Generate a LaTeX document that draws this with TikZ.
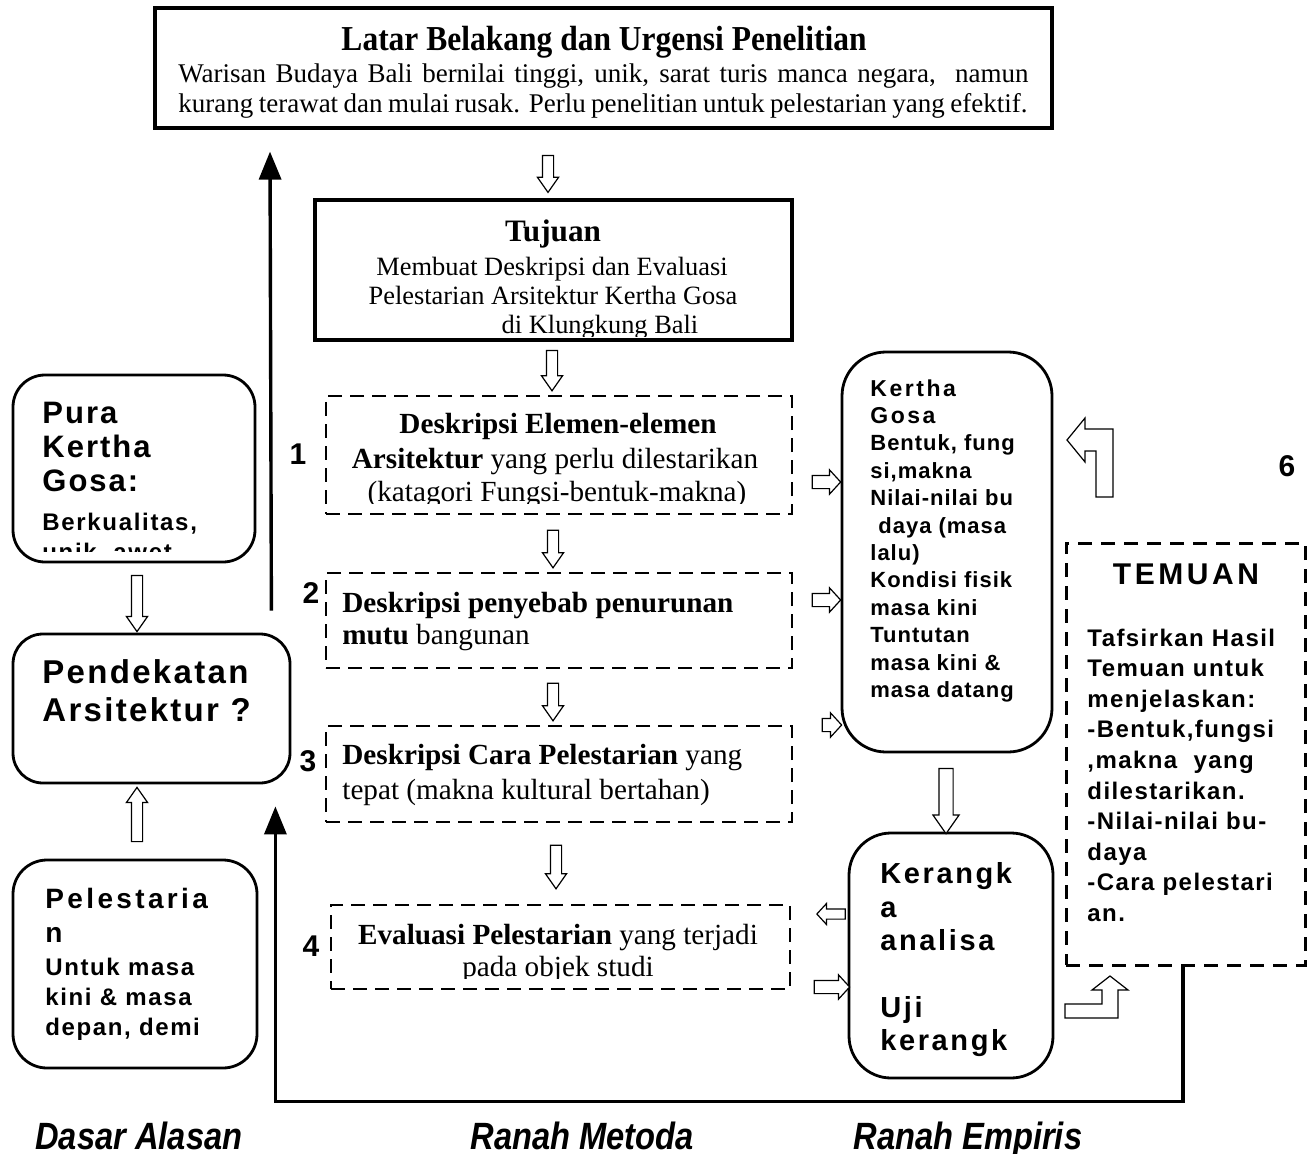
\documentclass[tikz,border=0pt]{standalone}
\usepackage{fontspec}
\setmainfont{Liberation Serif}
\newfontfamily\arl{Liberation Sans}
\newfontfamily\arlc[FakeStretch=0.86]{Liberation Sans}
\newfontfamily\serc[FakeStretch=0.9]{Liberation Serif}
\usetikzlibrary{shapes.arrows, arrows.meta, calc}
\newcommand\sfx[2]{\arl\bfseries\fontsize{#1}{#1}\selectfont\addfontfeatures{LetterSpace=#2}}
\newcommand\srf[1]{\fontsize{#1}{#1}\selectfont}
\newcommand\blockarrow[3][]{\path let \p1=($(#3)-(#2)$), \n1={veclen(\x1,\y1)} in (#2) -- (#3) node[blk, midway, minimum height=\n1, #1] {};}
\begin{document}
\begin{tikzpicture}[x=0.5pt,y=-0.5pt,
  txt/.style={inner sep=0pt, anchor=base west},
  txtc/.style={inner sep=0pt, anchor=base},
  sq/.style={draw, line width=1.6pt, inner sep=0pt},
  rbox/.style={draw, line width=1.4pt, inner sep=0pt, rounded corners=#1},
  rbox/.default=15pt,
  dbox/.style={draw, line width=1.2pt, dash pattern=on 7pt off 4pt, inner sep=0pt},
  blk/.style={single arrow, draw, line width=0.6pt, fill=white, inner sep=0pt, inner ysep=2.5pt,
     single arrow head extend=2.5pt, single arrow tip angle=70, sloped, allow upside down},
  blkh/.style={inner ysep=3pt, single arrow head extend=2.75pt, single arrow tip angle=95},
  bline/.style={line width=1.7pt, -{Triangle[length=14pt,width=11pt]}},
  num/.style={inner sep=0pt, anchor=base, font={\sfx{15}{0}}},
  lab/.style={inner sep=0pt, anchor=base west, font={\arlc\bfseries\itshape\fontsize{19}{19}\selectfont}}
]
\fill[white] (0,0) rectangle (1309,1154);
\path[use as bounding box] (0,0) rectangle (1309,1154);

% ---------- boxes ----------
\node[sq, minimum width=448.5pt, minimum height=60pt] (top) at (603.5,68) {};
\node[sq, minimum width=238.5pt, minimum height=70pt] (tuj) at (553.5,270) {};
\node[dbox, minimum width=233pt, minimum height=59pt] (d1) at (559,455) {};
\node[dbox, minimum width=233pt, minimum height=47.5pt] (d2) at (559,620.5) {};
\node[dbox, minimum width=233pt, minimum height=48pt] (d3) at (559,774) {};
\node[dbox, minimum width=229.5pt, minimum height=42pt] (d4) at (560.5,947) {};
\node[rbox=16pt, minimum width=121pt, minimum height=93.5pt] (pura) at (134,468.5) {};
\node[rbox=15pt, minimum width=138.5pt, minimum height=74.5pt] (pend) at (151.5,708.5) {};
\node[rbox=17pt, minimum width=122pt, minimum height=104pt] (pel) at (135,964) {};
\node[rbox=22pt, minimum width=105pt, minimum height=200pt] (kg) at (947,552) {};
\node[rbox=21pt, minimum width=102pt, minimum height=122.5pt] (ker) at (951,955.5) {};
\node[draw, line width=1.5pt, dash pattern=on 7pt off 4.5pt, inner sep=0pt,
      minimum width=119.5pt, minimum height=211pt] (tem) at (1185.5,754) {};

% ---------- top box text ----------
\node[txtc, font={\serc\bfseries\srf{17.5}}] (topT) at (604,51) {Latar Belakang dan Urgensi Penelitian};
\node[txt, font={\srf{13.5}}] (topL1) at (178,83) {\makebox[425pt][s]{Warisan Budaya Bali bernilai tinggi, unik, sarat turis manca negara,\ \ namun}};
\node[txt, font={\srf{13.5}}] (topL2) at (178,113) {\makebox[424.5pt][s]{kurang terawat dan mulai rusak. Perlu penelitian untuk pelestarian yang efektif.}};

% ---------- Tujuan ----------
\node[txtc, font={\bfseries\srf{15.6}}] (tujT) at (553,242) {Tujuan};
\node[txtc, font={\srf{13.2}}] (tujL1) at (552,276) {Membuat Deskripsi dan Evaluasi};
\node[txtc, font={\srf{13.2}}] (tujL2) at (553,305) {Pelestarian Arsitektur Kertha Gosa};
\begin{scope}
\clip (0,0) rectangle (1309,337);
\node[txtc, font={\srf{13.2}}] (tujL3) at (600,334) {di Klungkung Bali};
\end{scope}

% ---------- method boxes ----------
\node[txtc, font={\srf{14.6}}] (d1L1) at (558,433) {\textbf{Deskripsi Elemen-elemen}};
\node[txtc, font={\srf{14.6}}] (d1L2) at (555,468) {\textbf{Arsitektur} yang perlu dilestarikan};
\begin{scope}
\clip (0,0) rectangle (1309,503);
\node[txtc, font={\srf{14.6}}] (d1L3) at (557,501) {(katagori Fungsi-bentuk-makna)};
\end{scope}
\node[txt, font={\srf{14.6}}] (d2L1) at (342,612) {\textbf{Deskripsi penyebab penurunan}};
\node[txt, font={\srf{14.6}}] (d2L2) at (342,644) {\textbf{mutu} bangunan};
\node[txt, font={\srf{14.6}}] (d3L1) at (342,764) {\textbf{Deskripsi Cara Pelestarian} yang};
\node[txt, font={\srf{14.6}}] (d3L2) at (342,799) {tepat (makna kultural bertahan)};
\node[txtc, font={\srf{14.6}}] (d4L1) at (558,944) {\textbf{Evaluasi Pelestarian} yang terjadi};
\begin{scope}
\clip (0,0) rectangle (1309,978);
\node[txtc, font={\srf{14.6}}] (d4L2) at (558,976) {pada objek studi};
\end{scope}

\node[num] (n1) at (298,464) {1};
\node[num] (n2) at (311,603) {2};
\node[num] (n3) at (308,771) {3};
\node[num] (n4) at (311,956) {4};
\node[num] (n6) at (1287,476) {6};

% ---------- left column ----------
\node[txt, font={\sfx{15.5}{6.5}}] (puraA) at (42,423) {Pura};
\node[txt, font={\sfx{15.5}{6.5}}] (puraB) at (42,457) {Kertha};
\node[txt, font={\sfx{15.5}{6.5}}] (puraC) at (42,491) {Gosa:};
\node[txt, font={\sfx{12}{7}}] (puraD) at (42,530) {Berkualitas,};
\begin{scope}
\clip (0,0) rectangle (1309,551);
\node[txt, font={\sfx{12}{7}}] (puraE) at (42,560) {unik, awet};
\end{scope}

\node[txt, font={\sfx{16.5}{7}}] (pendA) at (42,683) {Pendekatan};
\node[txt, font={\sfx{16.5}{7}}] (pendB) at (42,721) {Arsitektur ?};

\node[txt, font={\sfx{14}{12}}] (pelA) at (45,908) {Pelestaria};
\node[txt, font={\sfx{14}{12}}] (pelB) at (45,942) {n};
\node[txt, font={\sfx{12}{6.7}}] (pelC) at (45,975) {Untuk masa};
\node[txt, font={\sfx{12}{6.7}}] (pelD) at (45,1005) {kini \& masa};
\node[txt, font={\sfx{12}{6.7}}] (pelE) at (45,1035) {depan, demi};

% ---------- Kertha Gosa ----------
\node[txt, font={\sfx{11.5}{11}}] (kgA) at (870,396) {Kertha};
\node[txt, font={\sfx{11.5}{11}}] (kgB) at (870,423.4) {Gosa};
\node[txt, font={\sfx{11}{4.5}}] (kgC) at (870,450.8) {Bentuk, fung};
\node[txt, font={\sfx{11}{4.5}}] (kgD) at (870,478.2) {si,makna};
\node[txt, font={\sfx{11}{4.5}}] (kgE) at (870,505.6) {Nilai-nilai bu};
\node[txt, font={\sfx{11}{4.5}}] (kgF) at (870,533) {\hspace*{4pt}daya (masa};
\node[txt, font={\sfx{11}{4.5}}] (kgG) at (870,560.4) {lalu)};
\node[txt, font={\sfx{11}{4.5}}] (kgH) at (870,587.8) {Kondisi fisik};
\node[txt, font={\sfx{11}{4.5}}] (kgI) at (870,615.2) {masa kini};
\node[txt, font={\sfx{11}{4.5}}] (kgJ) at (870,642.6) {Tuntutan};
\node[txt, font={\sfx{11}{4.5}}] (kgK) at (870,670) {masa kini \&};
\node[txt, font={\sfx{11}{4.5}}] (kgL) at (870,697.4) {masa datang};

% ---------- Kerangka ----------
\node[txt, font={\sfx{14.5}{9}}] (kerA) at (880,883) {Kerangk};
\node[txt, font={\sfx{14.5}{9}}] (kerB) at (880,917) {a};
\node[txt, font={\sfx{14.5}{9}}] (kerC) at (880,950) {analisa};
\node[txt, font={\sfx{14.5}{9}}] (kerD) at (880,1017) {Uji};
\node[txt, font={\sfx{14.5}{9}}] (kerE) at (880,1050) {kerangk};

% ---------- TEMUAN ----------
\node[txtc, font={\sfx{15}{12}}] (temT) at (1186,584) {TEMUAN};
\node[txt, font={\sfx{12}{6}}] (temA) at (1087,646) {Tafsirkan Hasil};
\node[txt, font={\sfx{12}{6}}] (temB) at (1087,676.6) {Temuan untuk};
\node[txt, font={\sfx{12}{6}}] (temC) at (1087,707.2) {menjelaskan:};
\node[txt, font={\sfx{12}{6}}] (temD) at (1087,737.8) {-Bentuk,fungsi};
\node[txt, font={\sfx{12}{6}}] (temE) at (1087,768.4) {,makna\ \ yang};
\node[txt, font={\sfx{12}{6}}] (temF) at (1087,799) {dilestarikan.};
\node[txt, font={\sfx{12}{6}}] (temG) at (1087,829.6) {-Nilai-nilai bu-};
\node[txt, font={\sfx{12}{6}}] (temH) at (1087,860.2) {daya};
\node[txt, font={\sfx{12}{6}}] (temI) at (1087,890.8) {-Cara pelestari};
\node[txt, font={\sfx{12}{6}}] (temJ) at (1087,921.4) {an.};

% ---------- bottom labels ----------
\node[lab] (labA) at (35,1149) {Dasar Alasan};
\node[lab] (labB) at (470,1149) {Ranah Metoda};
\node[lab] (labC) at (853,1149) {Ranah Empiris};

% ---------- black connectors ----------
\coordinate (c1s) at ($(pend.north east)+(-20,-22)$);
\coordinate (c1e) at ($(top.south)+(-333.5,22)$);
\draw[bline] (c1s) -- (c1e);
\coordinate (c2s) at ($(tem.south)+(-2.5,0)$);
\coordinate (c2e) at ($(pend.south east)+(-16,22)$);
\draw[bline] (c2s) -- ++(0,135) -| (c2e);

% ---------- hollow block arrows ----------
\coordinate (a1s) at ($(top.south)+(-55.5,22)$);  \coordinate (a1e) at ($(tuj.north)+(-5.5,-10)$);
\coordinate (a2s) at ($(tuj.south)+(-1.5,5)$);    \coordinate (a2e) at ($(d1.north)+(-7,-8)$);
\coordinate (a3s) at ($(d1.south)+(-6,11)$);      \coordinate (a3e) at ($(d2.north)+(-6,-8)$);
\coordinate (a4s) at ($(d2.south)+(-6,10)$);      \coordinate (a4e) at ($(d3.north)+(-6,-8)$);
\coordinate (a5s) at ($(d3.south)+(-3,18)$);      \coordinate (a5e) at ($(d4.north)+(-4.5,-19)$);
\coordinate (a6s) at ($(pura.south)+(3,8)$);      \coordinate (a6e) at ($(pend.north)+(-14.5,-5)$);
\coordinate (a7s) at ($(pel.north)+(2,-13)$);     \coordinate (a7e) at ($(pend.south)+(-14.5,7)$);
\coordinate (a8s) at ($(d1.east)+(16,27)$);       \coordinate (a8e) at ($(kg.west)+(-3,-70)$);
\coordinate (a9s) at ($(d2.east)+(16,-20.5)$);    \coordinate (a9e) at ($(kg.west)+(-3,48)$);
\coordinate (a10s) at ($(d3.east)+(26,-49)$);     \coordinate (a10e) at ($(kg.west)+(-2,173)$);
\coordinate (a11s) at ($(kg.south)+(-1,10)$);     \coordinate (a11e) at ($(ker.north)+(-5,-3)$);
\coordinate (a12s) at ($(ker.west)+(0,-41.5)$);   \coordinate (a12e) at ($(d4.east)+(28,-33)$);
\coordinate (a13s) at ($(d4.east)+(20,40)$);      \coordinate (a13e) at ($(ker.west)+(-1,31.5)$);
\blockarrow{a1s}{a1e}
\blockarrow{a2s}{a2e}
\blockarrow{a3s}{a3e}
\blockarrow{a4s}{a4e}
\blockarrow{a5s}{a5e}
\blockarrow{a6s}{a6e}
\blockarrow{a7s}{a7e}
\blockarrow[blkh]{a8s}{a8e}
\blockarrow[blkh]{a9s}{a9e}
\blockarrow[blkh]{a10s}{a10e}
\blockarrow[inner ysep=3.25pt, single arrow head extend=3pt]{a11s}{a11e}
\blockarrow[blkh, inner ysep=2.25pt]{a12s}{a12e}
\blockarrow[blkh]{a13s}{a13e}

% elbow block arrows
\draw[line width=0.6pt, fill=white] (1065,1004) -- (1102,1004) -- (1102,990) -- (1092,990) -- (1110,976)
   -- (1128,990) -- (1118,990) -- (1118,1018) -- (1065,1018) -- cycle;
\draw[line width=0.6pt, fill=white] (1067,440) -- (1085,418) -- (1085,429) -- (1113,429) -- (1113,497)
   -- (1096,497) -- (1096,451) -- (1085,451) -- (1085,462) -- cycle;
\end{tikzpicture}
\end{document}
